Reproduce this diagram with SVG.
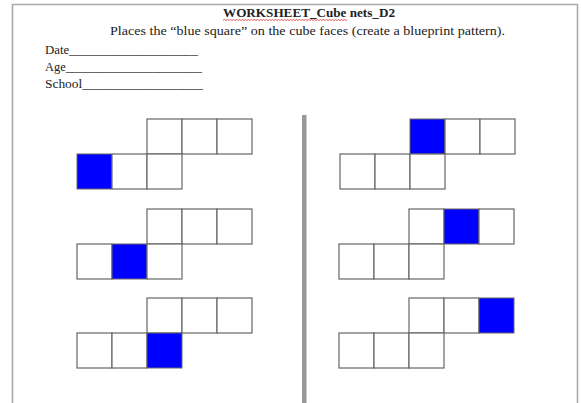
<svg xmlns="http://www.w3.org/2000/svg" width="581" height="403" viewBox="0 0 581 403">
<style>
.t{font-family:"Liberation Serif","DejaVu Serif",serif;fill:#222}
.c{fill:#fff;stroke:#666;stroke-width:1.2}
.b{fill:#0000ff;stroke:#666;stroke-width:1}
</style>
<defs>
<clipPath id="wclip"><rect x="223" y="15" width="124" height="10"/></clipPath>
</defs>
<rect x="0" y="0" width="581" height="403" fill="#fff"/>
<path d="M12.5,403 V4.5 H577.5 V403" fill="none" stroke="#aaa" stroke-width="1.6"/>
<g id="header">
<text class="t" x="223" y="17" font-size="13" font-weight="bold" textLength="172" lengthAdjust="spacingAndGlyphs">WORKSHEET_Cube nets_D2</text>
<path clip-path="url(#wclip)" d="M223,20.5 l1.5,-1 1.5,1 1.5,-1 1.5,1 1.5,-1 1.5,1 1.5,-1 1.5,1 1.5,-1 1.5,1 1.5,-1 1.5,1 1.5,-1 1.5,1 1.5,-1 1.5,1 1.5,-1 1.5,1 1.5,-1 1.5,1 1.5,-1 1.5,1 1.5,-1 1.5,1 1.5,-1 1.5,1 1.5,-1 1.5,1 1.5,-1 1.5,1 1.5,-1 1.5,1 1.5,-1 1.5,1 1.5,-1 1.5,1 1.5,-1 1.5,1 1.5,-1 1.5,1 1.5,-1 1.5,1 1.5,-1 1.5,1 1.5,-1 1.5,1 1.5,-1 1.5,1 1.5,-1 1.5,1 1.5,-1 1.5,1 1.5,-1 1.5,1 1.5,-1 1.5,1 1.5,-1 1.5,1 1.5,-1 1.5,1 1.5,-1 1.5,1 1.5,-1 1.5,1 1.5,-1 1.5,1 1.5,-1 1.5,1 1.5,-1 1.5,1 1.5,-1 1.5,1 1.5,-1 1.5,1 1.5,-1 1.5,1 1.5,-1 1.5,1 1.5,-1 1.5,1 1.5,-1 1.5,1 1.5,-1 1.5,1 1.5,-1" fill="none" stroke="#e03030" stroke-width="0.8"/>
<text class="t" x="110" y="35" font-size="12" textLength="395" lengthAdjust="spacingAndGlyphs">Places the “blue square” on the cube faces (create a blueprint pattern).</text>
<text class="t" x="45" y="54" font-size="11.5" textLength="153" lengthAdjust="spacingAndGlyphs">Date____________________</text>
<text class="t" x="45" y="71" font-size="11.5" textLength="157" lengthAdjust="spacingAndGlyphs">Age______________________</text>
<text class="t" x="45" y="88" font-size="11.5" textLength="158" lengthAdjust="spacingAndGlyphs">School__________________</text>
</g>
<rect id="divider" x="302" y="115" width="4.5" height="288" fill="#999"/>
<g id="netL1">
<rect class="c" x="147" y="119" width="35" height="35"/><rect class="c" x="182" y="119" width="35" height="35"/><rect class="c" x="217" y="119" width="35" height="35"/>
<rect class="b" x="77" y="154" width="35" height="35"/><rect class="c" x="112" y="154" width="35" height="35"/><rect class="c" x="147" y="154" width="35" height="35"/>
</g>
<g id="netL2">
<rect class="c" x="147" y="209" width="35" height="35"/><rect class="c" x="182" y="209" width="35" height="35"/><rect class="c" x="217" y="209" width="35" height="35"/>
<rect class="c" x="77" y="244" width="35" height="35"/><rect class="b" x="112" y="244" width="35" height="35"/><rect class="c" x="147" y="244" width="35" height="35"/>
</g>
<g id="netL3">
<rect class="c" x="147" y="298" width="35" height="35"/><rect class="c" x="182" y="298" width="35" height="35"/><rect class="c" x="217" y="298" width="35" height="35"/>
<rect class="c" x="77" y="333" width="35" height="35"/><rect class="c" x="112" y="333" width="35" height="35"/><rect class="b" x="147" y="333" width="35" height="35"/>
</g>
<g id="netR1">
<rect class="b" x="410" y="119" width="35" height="35"/><rect class="c" x="445" y="119" width="35" height="35"/><rect class="c" x="480" y="119" width="35" height="35"/>
<rect class="c" x="340" y="154" width="35" height="35"/><rect class="c" x="375" y="154" width="35" height="35"/><rect class="c" x="410" y="154" width="35" height="35"/>
</g>
<g id="netR2">
<rect class="c" x="409" y="209" width="35" height="35"/><rect class="b" x="444" y="209" width="35" height="35"/><rect class="c" x="479" y="209" width="35" height="35"/>
<rect class="c" x="339" y="244" width="35" height="35"/><rect class="c" x="374" y="244" width="35" height="35"/><rect class="c" x="409" y="244" width="35" height="35"/>
</g>
<g id="netR3">
<rect class="c" x="409" y="298" width="35" height="35"/><rect class="c" x="444" y="298" width="35" height="35"/><rect class="b" x="479" y="298" width="35" height="35"/>
<rect class="c" x="339" y="333" width="35" height="35"/><rect class="c" x="374" y="333" width="35" height="35"/><rect class="c" x="409" y="333" width="35" height="35"/>
</g>
</svg>
